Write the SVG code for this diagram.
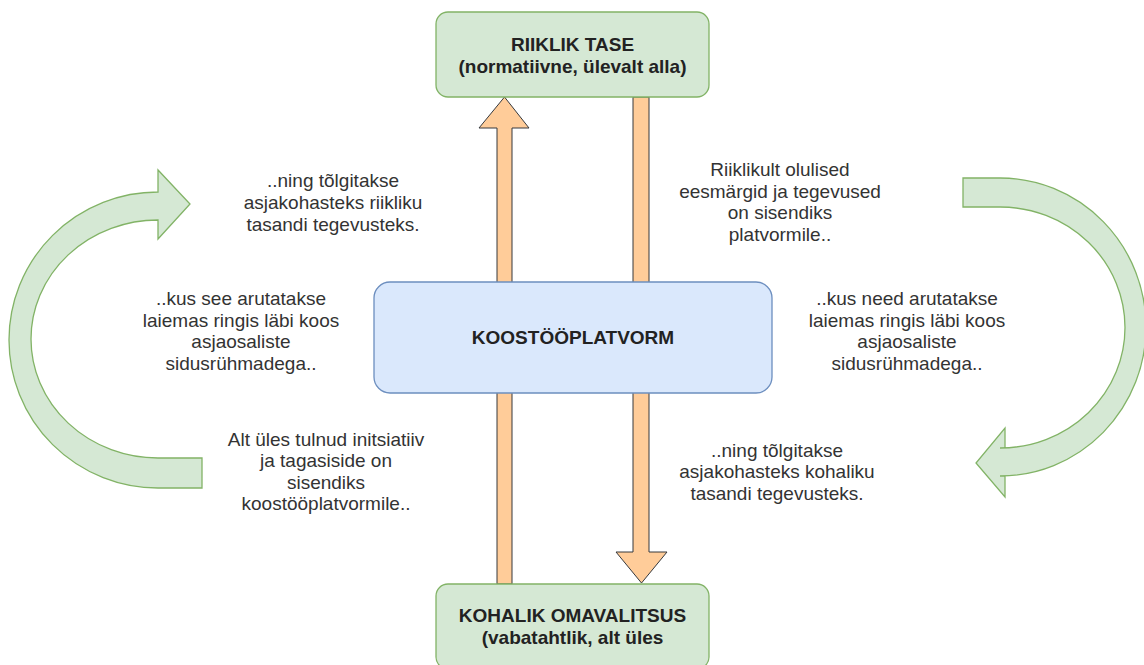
<svg xmlns="http://www.w3.org/2000/svg" width="1144" height="665" viewBox="0 0 1144 665">
<style>
.green{fill:#d5e8d4;stroke:#82b366;stroke-width:1.3}
.blue{fill:#dae8fc;stroke:#6c8ebf;stroke-width:1.3}
.orange{fill:#ffcc99;stroke:#36393d;stroke-width:1}
.t{font-family:"Liberation Sans",Arial,sans-serif;font-size:19px;fill:#333333;text-anchor:middle}
.b{font-family:"Liberation Sans",Arial,sans-serif;font-size:19px;font-weight:bold;fill:#222222;text-anchor:middle}
</style>
<rect width="1144" height="665" fill="#ffffff"/>
<g id="connectors">
<path id="arrow-up" class="orange" d="M497,584 L497,128 L479,128 L504.5,97 L529,128 L512,128 L512,584 Z"/>
<path id="arrow-down" class="orange" d="M633,97 L649,97 L649,552 L667,552 L641.5,583 L616,552 L633,552 Z"/>
<path id="curve-left" class="green" d="M158,192 A149,148 0 0 0 9,340 A149,148 0 0 0 158,488 L202,488 L202,458 L158,458 A127,119 0 0 1 31,339 A127,119 0 0 1 158,220 L158,239 L190,204 L158,170 Z"/>
<path id="curve-right" class="green" d="M963,178 L1000,178 A146,149 0 0 1 1146,327 A146,149 0 0 1 1000,476 L1005,476 L1005,497 L976,463 L1005,428 L1005,448 L1000,448 A125,120.5 0 0 0 1125,327.5 A125,120.5 0 0 0 1000,207 L963,207 Z"/>
</g>
<g id="node-riiklik">
<rect class="green" x="436" y="12" width="273" height="85" rx="12"/>
<text class="b" x="572.5" y="51">RIIKLIK TASE</text>
<text class="b" x="572.5" y="73">(normatiivne, ülevalt alla)</text>
</g>
<g id="node-koostoo">
<rect class="blue" x="374" y="282" width="398" height="111" rx="16"/>
<text class="b" x="573" y="344">KOOSTÖÖPLATVORM</text>
</g>
<g id="node-kohalik">
<rect class="green" x="436" y="584" width="273" height="85" rx="12"/>
<text class="b" x="572.5" y="622">KOHALIK OMAVALITSUS</text>
<text class="b" x="572.5" y="644">(vabatahtlik, alt üles</text>
</g>
<g id="label-top-left">
<text class="t" x="333" y="187">..ning tõlgitakse</text>
<text class="t" x="333" y="209">asjakohasteks riikliku</text>
<text class="t" x="333" y="231">tasandi tegevusteks.</text>
</g>
<g id="label-top-right">
<text class="t" x="780" y="176">Riiklikult olulised</text>
<text class="t" x="780" y="198">eesmärgid ja tegevused</text>
<text class="t" x="780" y="219">on sisendiks</text>
<text class="t" x="780" y="241">platvormile..</text>
</g>
<g id="label-mid-left">
<text class="t" x="241" y="305">..kus see arutatakse</text>
<text class="t" x="241" y="327">laiemas ringis läbi koos</text>
<text class="t" x="241" y="348">asjaosaliste</text>
<text class="t" x="241" y="370">sidusrühmadega..</text>
</g>
<g id="label-mid-right">
<text class="t" x="907" y="305">..kus need arutatakse</text>
<text class="t" x="907" y="327">laiemas ringis läbi koos</text>
<text class="t" x="907" y="348">asjaosaliste</text>
<text class="t" x="907" y="370">sidusrühmadega..</text>
</g>
<g id="label-bottom-left">
<text class="t" x="326" y="446">Alt üles tulnud initsiatiiv</text>
<text class="t" x="326" y="467">ja tagasiside on</text>
<text class="t" x="326" y="489">sisendiks</text>
<text class="t" x="326" y="510">koostööplatvormile..</text>
</g>
<g id="label-bottom-right">
<text class="t" x="777" y="457">..ning tõlgitakse</text>
<text class="t" x="777" y="478">asjakohasteks kohaliku</text>
<text class="t" x="777" y="500">tasandi tegevusteks.</text>
</g>
</svg>
